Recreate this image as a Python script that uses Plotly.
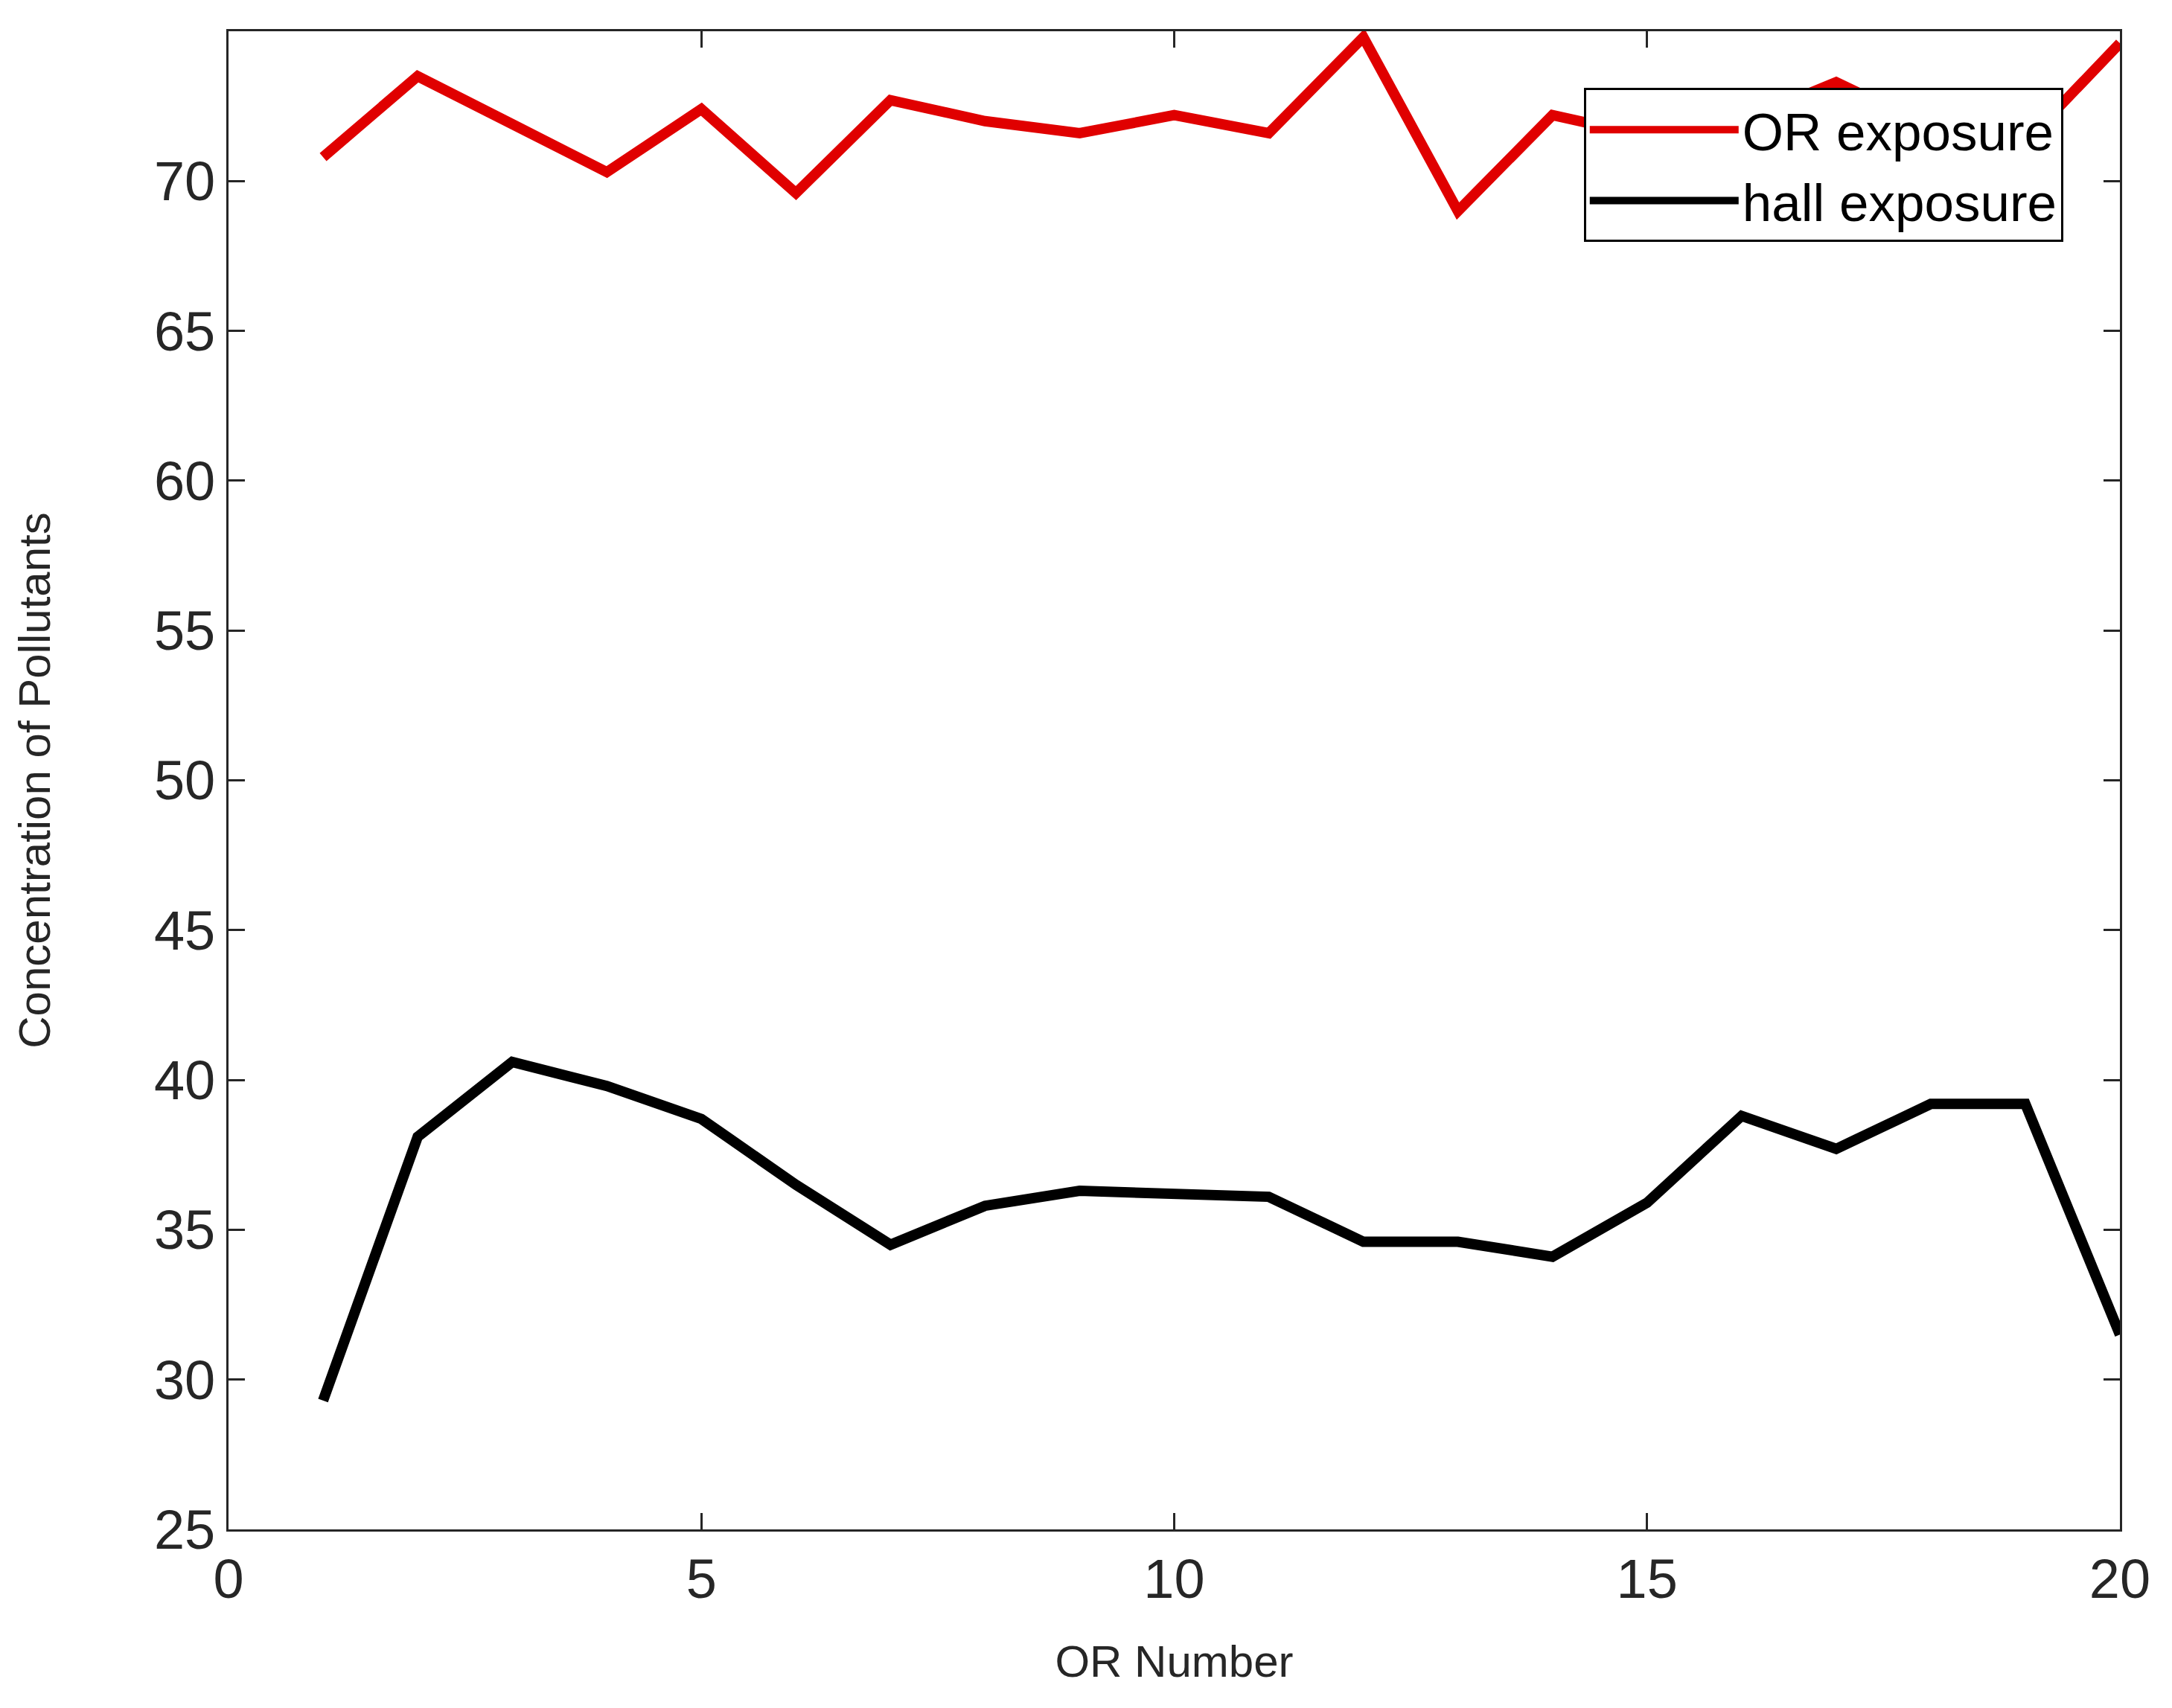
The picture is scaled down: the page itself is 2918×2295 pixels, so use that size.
import plotly.graph_objects as go

or_number = list(range(1, 21))
or_exposure = [70.8, 73.5, 71.9, 70.3, 72.4, 69.6, 72.7, 72.0, 71.6, 72.2,
               71.6, 74.8, 69.0, 72.2, 71.5, 72.0, 73.3, 71.8, 71.3, 74.6]
hall_exposure = [29.3, 38.1, 40.6, 39.8, 38.7, 36.5, 34.5, 35.8, 36.3, 36.2,
                 36.1, 34.6, 34.6, 34.1, 35.9, 38.8, 37.7, 39.2, 39.2, 31.5]

fig = go.Figure()
fig.add_trace(go.Scatter(x=or_number, y=or_exposure, mode="lines", name="OR exposure",
                         line=dict(color="#e00000", width=14)))
fig.add_trace(go.Scatter(x=or_number, y=hall_exposure, mode="lines", name="hall exposure",
                         line=dict(color="black", width=14)))

axis_common = dict(showgrid=False, zeroline=False, showline=True, linecolor="#262626",
                   linewidth=3, mirror="ticks", ticks="inside", ticklen=22, tickwidth=3,
                   tickcolor="#262626", tickfont=dict(family="Liberation Sans", size=74, color="#262626"))
fig.update_xaxes(range=[0, 20], dtick=5, title=dict(text="OR Number",
                 font=dict(family="Liberation Sans", size=60, color="#262626"), standoff=50),
                 **axis_common)
fig.update_yaxes(range=[25, 75], dtick=5, title=dict(text="Concentration of Pollutants",
                 font=dict(family="Liberation Sans", size=60, color="#262626"), standoff=120),
                 **axis_common)
fig.update_layout(
    width=2918, height=2295, plot_bgcolor="white", paper_bgcolor="white",
    margin=dict(l=299, r=78, t=34, b=248),
    legend=dict(x=0.97, y=0.962, xanchor="right", yanchor="top",
                bordercolor="black", borderwidth=3, bgcolor="white",
                font=dict(family="Liberation Sans", size=71, color="black"),
                itemwidth=200, tracegroupgap=10),
    showlegend=True,
)
fig.write_html("out.html")
